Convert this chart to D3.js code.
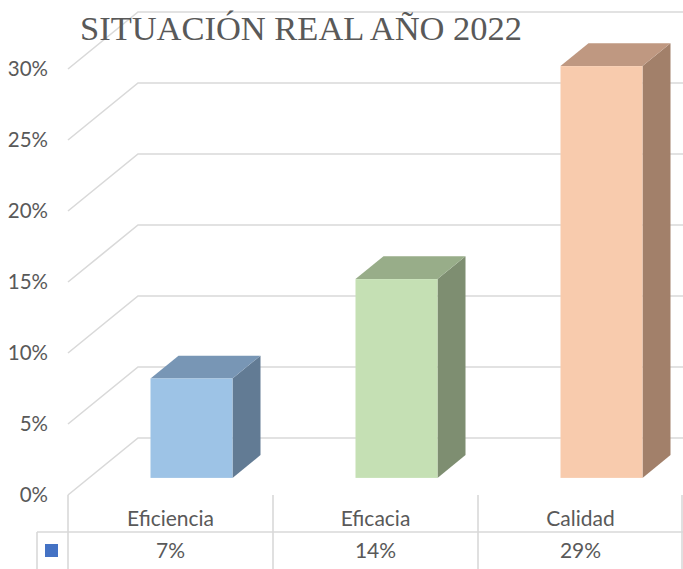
<!DOCTYPE html>
<html>
<head>
<meta charset="utf-8">
<script src="https://cdn.jsdelivr.net/npm/d3@7"></script>
<style>
  html, body { margin: 0; padding: 0; background: #fff; }
  svg { display: block; }
</style>
</head>
<body>
<svg id="chart" width="683" height="569"></svg>
<script>
// Chart data
const categories = ["Eficiencia", "Eficacia", "Calidad"];
const values = [0.07, 0.14, 0.29];
const valueLabels = ["7%", "14%", "29%"];
const tickValues = [0, 0.05, 0.10, 0.15, 0.20, 0.25, 0.30];
const titleText = "SITUACIÓN REAL AÑO 2022";

// Face colours for each column: front, top, side
const faceColors = [
  { front: "#9dc3e6", top: "#7896b5", side: "#627b94" },
  { front: "#c5e0b4", top: "#98ad89", side: "#7e8e71" },
  { front: "#f8cbad", top: "#bf9881", side: "#a2806a" }
];

const svg = d3.select("#chart");
const textColor = "#595959";
const gridColor = "#d9d9d9";
const labelFont = "Lato, 'Open Sans', sans-serif";

// Oblique 3D geometry: floor front edge, depth offset
const floorFrontY = 495;
const leftX = 68, rightX = 683;
const depthDX = 70, depthDY = -57;
const barDepthStart = 0.3, barDepthEnd = 0.7;

const x = d3.scaleBand().domain(categories).range([leftX, rightX]);
const h = d3.scaleLinear().domain([0, 0.30]).range([0, 426]);

// Gridlines on side wall (diagonal) and back wall (horizontal)
const grid = svg.append("g");
tickValues.forEach(t => {
  const yF = floorFrontY - h(t);
  grid.append("path")
    .attr("d", `M${leftX},${yF} L${leftX + depthDX},${yF + depthDY} L${rightX},${yF + depthDY}`)
    .attr("fill", "none")
    .attr("stroke", gridColor)
    .attr("stroke-width", 1.6);
});

// Tick labels
svg.append("g").selectAll("text")
  .data(tickValues)
  .join("text")
  .attr("x", 48)
  .attr("y", d => floorFrontY - h(d))
  .attr("dy", "0.35em")
  .attr("text-anchor", "end")
  .attr("fill", textColor)
  .attr("font-family", labelFont)
  .attr("font-size", 20.5)
  .text(d => d3.format(".0%")(d));

// Columns as extruded boxes
const bars = svg.append("g");
categories.forEach((c, i) => {
  const bw = x.bandwidth() * 0.4;
  const x0 = x(c) + (x.bandwidth() - bw) / 2 + depthDX * barDepthStart;
  const yb = floorFrontY + depthDY * barDepthStart;
  const ht = h(values[i]);
  const yt = yb - ht;
  const ddx = depthDX * (barDepthEnd - barDepthStart);
  const ddy = depthDY * (barDepthEnd - barDepthStart);
  const col = faceColors[i];
  // side face
  bars.append("path")
    .attr("d", `M${x0 + bw},${yb} L${x0 + bw + ddx},${yb + ddy} L${x0 + bw + ddx},${yt + ddy} L${x0 + bw},${yt} Z`)
    .attr("fill", col.side);
  // top face
  bars.append("path")
    .attr("d", `M${x0},${yt} L${x0 + ddx},${yt + ddy} L${x0 + bw + ddx},${yt + ddy} L${x0 + bw},${yt} Z`)
    .attr("fill", col.top);
  // front face
  bars.append("rect")
    .attr("x", x0).attr("y", yt)
    .attr("width", bw).attr("height", ht)
    .attr("fill", col.front);
});

// Data table below the plot
const table = svg.append("g");
const rowLineY = 532;
table.append("line")
  .attr("x1", 37).attr("x2", rightX).attr("y1", rowLineY).attr("y2", rowLineY)
  .attr("stroke", gridColor).attr("stroke-width", 1.6);
table.append("line")
  .attr("x1", 37).attr("x2", 37).attr("y1", rowLineY).attr("y2", 569)
  .attr("stroke", gridColor).attr("stroke-width", 1.6);
const bounds = categories.map(c => x(c)).concat([rightX - 1]);
bounds.forEach(b => {
  table.append("line")
    .attr("x1", b).attr("x2", b).attr("y1", floorFrontY).attr("y2", 569)
    .attr("stroke", gridColor).attr("stroke-width", 1.6);
});
table.append("g").selectAll("text")
  .data(categories)
  .join("text")
  .attr("x", d => x(d) + x.bandwidth() / 2)
  .attr("y", 519)
  .attr("dy", "0.35em")
  .attr("text-anchor", "middle")
  .attr("fill", textColor)
  .attr("font-family", labelFont)
  .attr("font-size", 21)
  .text(d => d);
table.append("g").selectAll("text")
  .data(valueLabels)
  .join("text")
  .attr("x", (d, i) => x(categories[i]) + x.bandwidth() / 2)
  .attr("y", 551)
  .attr("dy", "0.35em")
  .attr("text-anchor", "middle")
  .attr("fill", textColor)
  .attr("font-family", labelFont)
  .attr("font-size", 21)
  .text(d => d);
// Legend key
table.append("rect")
  .attr("x", 45).attr("y", 544).attr("width", 13).attr("height", 13)
  .attr("fill", "#4472c4");

// Title
svg.append("text")
  .attr("x", 80)
  .attr("y", 40)
  .attr("fill", textColor)
  .attr("font-family", "'Liberation Serif', 'Times New Roman', serif")
  .attr("font-size", 33)
  .attr("textLength", 442)
  .attr("lengthAdjust", "spacingAndGlyphs")
  .text(titleText);
</script>
</body>
</html>
